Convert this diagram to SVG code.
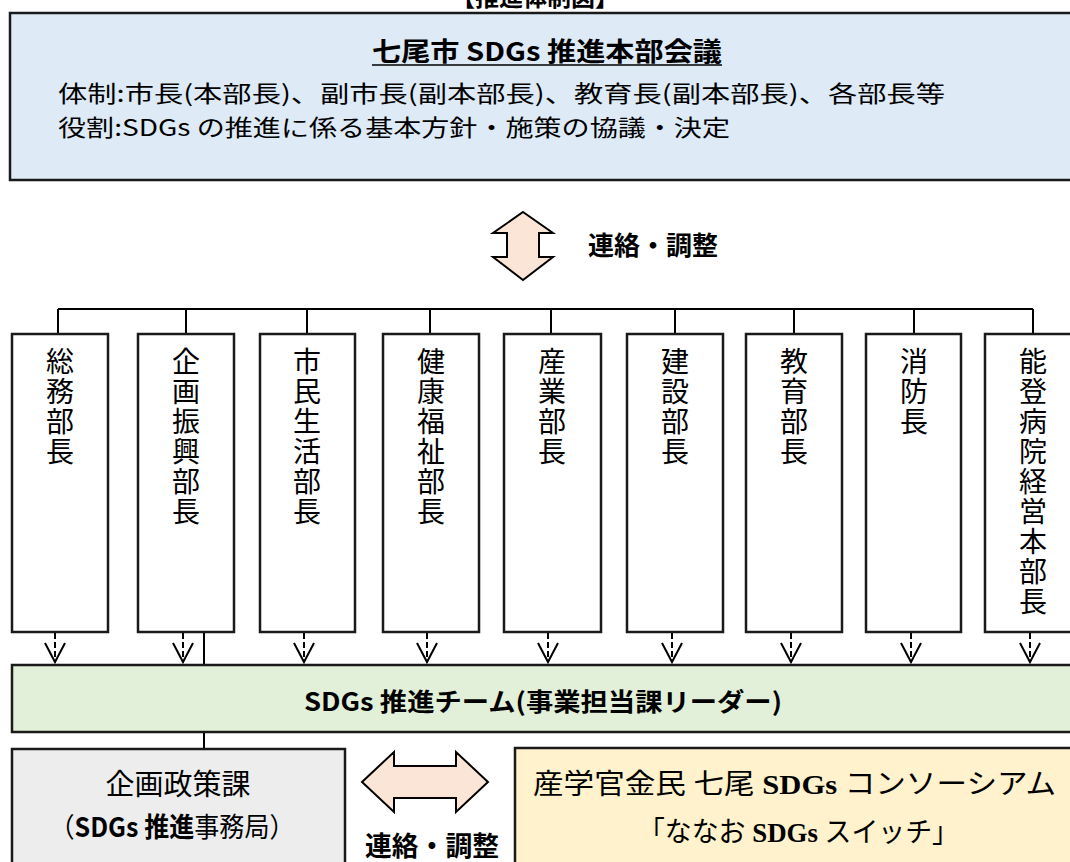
<svg xmlns="http://www.w3.org/2000/svg" width="1070" height="862" viewBox="0 0 1070 862">
<style>
text{font-family:"Noto Sans CJK JP","Noto Sans",sans-serif;fill:#000}
.b{font-weight:bold}
.ser{font-family:"Liberation Serif","Noto Sans CJK JP",serif}
.box{stroke:#1a1a1a;stroke-width:2.5}
.dept{fill:#fff}
.ln{stroke:#000;stroke-width:2;fill:none}
.dash{stroke:#000;stroke-width:2;stroke-dasharray:6 3;fill:none}
.hd{stroke:#000;stroke-width:2;fill:none}
.arr{fill:#fbe5d6;stroke:#000;stroke-width:2;stroke-linejoin:miter}
.vt{font-size:28px}
</style>
<rect width="1070" height="862" fill="#fff"/>
<text x="535" y="6" class="b" font-size="24" text-anchor="middle">【推進体制図】</text>

<g id="honbu">
<rect class="box" x="10" y="13" width="1080" height="167" fill="#deebf7"/>
<text x="547" y="61" class="b" font-size="26" text-anchor="middle" textLength="350" lengthAdjust="spacingAndGlyphs">七尾市 SDGs 推進本部会議</text>
<line x1="372" y1="65" x2="722" y2="65" stroke="#000" stroke-width="1.6"/>
<text x="58" y="102" font-size="23" textLength="887" lengthAdjust="spacingAndGlyphs">体制:市長(本部長)、副市長(副本部長)、教育長(副本部長)、各部長等</text>
<text x="58" y="136" font-size="23" textLength="672" lengthAdjust="spacingAndGlyphs">役割:SDGs の推進に係る基本方針・施策の協議・決定</text>
</g>

<g id="link-top">
<path class="arr" d="M523,212 L553,233 L539,233 L539,257 L553,257 L523,280 L493,257 L507,257 L507,233 L493,233 Z"/>
<text x="588" y="255" class="b" font-size="26" textLength="130" lengthAdjust="spacingAndGlyphs">連絡・調整</text>
</g>

<g id="connectors">
<path class="ln" d="M58,309 H1033 M58,309 V334 M186,309 V334 M307,309 V334 M430,309 V334 M551,309 V334 M675,309 V334 M794,309 V334 M914,309 V334 M1033,309 V334"/>
<path class="dash" d="M55,633 V660 M183,633 V660 M304,633 V660 M427,633 V660 M548,633 V660 M672,633 V660 M791,633 V660 M911,633 V660 M1030,633 V660"/>
<path class="hd" d="M45,643 L55,662 L65,643 M173,643 L183,662 L193,643 M294,643 L304,662 L314,643 M417,643 L427,662 L437,643 M538,643 L548,662 L558,643 M662,643 L672,662 L682,643 M781,643 L791,662 L801,643 M901,643 L911,662 L921,643 M1020,643 L1030,662 L1040,643"/>
<path class="ln" d="M204,632 V665 M204,732 V749"/>
</g>

<g id="d1"><rect class="box dept" x="12" y="334" width="96" height="298"/>
<text class="vt" text-anchor="middle"><tspan x="60" y="372">総</tspan><tspan x="60" dy="30">務</tspan><tspan x="60" dy="30">部</tspan><tspan x="60" dy="30">長</tspan></text></g>
<g id="d2"><rect class="box dept" x="138" y="334" width="96" height="298"/>
<text class="vt" text-anchor="middle"><tspan x="186" y="372">企</tspan><tspan x="186" dy="30">画</tspan><tspan x="186" dy="30">振</tspan><tspan x="186" dy="30">興</tspan><tspan x="186" dy="30">部</tspan><tspan x="186" dy="30">長</tspan></text></g>
<g id="d3"><rect class="box dept" x="260" y="334" width="95" height="298"/>
<text class="vt" text-anchor="middle"><tspan x="307" y="372">市</tspan><tspan x="307" dy="30">民</tspan><tspan x="307" dy="30">生</tspan><tspan x="307" dy="30">活</tspan><tspan x="307" dy="30">部</tspan><tspan x="307" dy="30">長</tspan></text></g>
<g id="d4"><rect class="box dept" x="383" y="334" width="96" height="298"/>
<text class="vt" text-anchor="middle"><tspan x="431" y="372">健</tspan><tspan x="431" dy="30">康</tspan><tspan x="431" dy="30">福</tspan><tspan x="431" dy="30">祉</tspan><tspan x="431" dy="30">部</tspan><tspan x="431" dy="30">長</tspan></text></g>
<g id="d5"><rect class="box dept" x="504" y="334" width="97" height="298"/>
<text class="vt" text-anchor="middle"><tspan x="552" y="372">産</tspan><tspan x="552" dy="30">業</tspan><tspan x="552" dy="30">部</tspan><tspan x="552" dy="30">長</tspan></text></g>
<g id="d6"><rect class="box dept" x="627" y="334" width="96" height="298"/>
<text class="vt" text-anchor="middle"><tspan x="675" y="372">建</tspan><tspan x="675" dy="30">設</tspan><tspan x="675" dy="30">部</tspan><tspan x="675" dy="30">長</tspan></text></g>
<g id="d7"><rect class="box dept" x="746" y="334" width="96" height="298"/>
<text class="vt" text-anchor="middle"><tspan x="794" y="372">教</tspan><tspan x="794" dy="30">育</tspan><tspan x="794" dy="30">部</tspan><tspan x="794" dy="30">長</tspan></text></g>
<g id="d8"><rect class="box dept" x="866" y="334" width="95" height="298"/>
<text class="vt" text-anchor="middle"><tspan x="914" y="372">消</tspan><tspan x="914" dy="30">防</tspan><tspan x="914" dy="30">長</tspan></text></g>
<g id="d9"><rect class="box dept" x="985" y="334" width="96" height="298"/>
<text class="vt" text-anchor="middle"><tspan x="1033" y="372">能</tspan><tspan x="1033" dy="30">登</tspan><tspan x="1033" dy="30">病</tspan><tspan x="1033" dy="30">院</tspan><tspan x="1033" dy="30">経</tspan><tspan x="1033" dy="30">営</tspan><tspan x="1033" dy="30">本</tspan><tspan x="1033" dy="30">部</tspan><tspan x="1033" dy="30">長</tspan></text></g>

<g id="team">
<rect class="box" x="12" y="665" width="1080" height="67" fill="#e2f0d9"/>
<text x="543" y="711" class="b" font-size="25" text-anchor="middle" textLength="478" lengthAdjust="spacingAndGlyphs">SDGs 推進チーム(事業担当課リーダー)</text>
</g>

<g id="kikaku">
<rect class="box" x="12" y="749" width="333" height="130" fill="#ededed"/>
<text x="178" y="795" font-size="29" text-anchor="middle" textLength="145" lengthAdjust="spacingAndGlyphs">企画政策課</text>
<text x="172" y="837" font-size="27" text-anchor="middle" textLength="245" lengthAdjust="spacingAndGlyphs">（<tspan class="b">SDGs 推進</tspan>事務局）</text>
</g>

<g id="link-bottom">
<path class="arr" d="M362,782 L394,752 L394,766 L456,766 L456,752 L488,782 L456,812 L456,798 L394,798 L394,812 Z"/>
<text x="365" y="856" class="b" font-size="27" textLength="134" lengthAdjust="spacingAndGlyphs">連絡・調整</text>
</g>

<g id="consortium">
<rect class="box" x="515" y="748" width="580" height="130" fill="#fff2cc"/>
<text x="533" y="794" class="ser" font-size="28" textLength="523" lengthAdjust="spacingAndGlyphs">産学官金民  七尾 <tspan font-weight="bold">SDGs</tspan> コンソーシアム</text>
<text x="638" y="842" class="ser" font-size="28" textLength="321" lengthAdjust="spacingAndGlyphs">「ななお <tspan font-weight="bold">SDGs</tspan> スイッチ」</text>
</g>
</svg>
